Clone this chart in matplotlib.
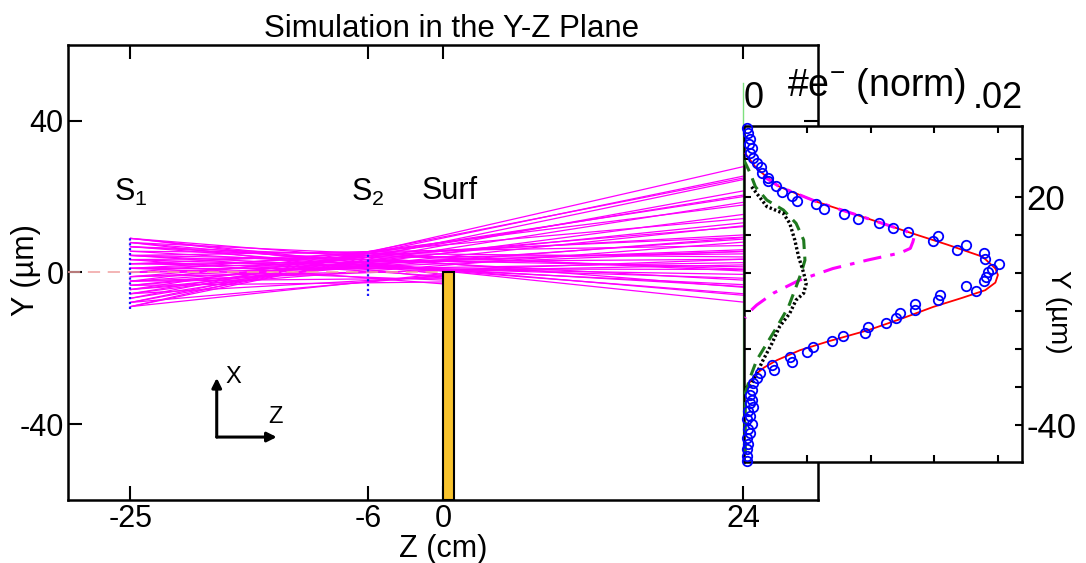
import numpy as np
import matplotlib.pyplot as plt
from matplotlib.patches import Rectangle

plt.rcParams['font.family'] = ['Liberation Sans', 'DejaVu Sans']
plt.rcParams['mathtext.fontset'] = 'custom'
plt.rcParams['mathtext.rm'] = 'Liberation Sans'
plt.rcParams['mathtext.it'] = 'Liberation Sans:italic'
plt.rcParams['mathtext.default'] = 'regular'
plt.rcParams['axes.unicode_minus'] = False

# beamline positions along Z (cm)
z_s1, z_s2, z_surf, z_det = -25, -6, 0, 24
surf_width = 0.9
s1_open = [-9.5, 9.2]
s2_open = [-6.3, 5.5]
det_extent = [-50, 50]

# transmitted rays: height (um) at S1 and at the detector plane
ray_y_s1 = [9, 9, 7.9, 7.9, 6.8, 6.8, 6.8, 5.6, 5.6, 4.5, 4.5, 4.5, 3.4, 3.4,
            2.3, 2.3, 2.3, 1.1, 1.1, 1.1, 0, 0, 0, -1.1, -1.1, -1.1, -2.3, -2.3,
            -2.3, -3.4, -3.4, -4.5, -4.5, -4.5, -5.6, -5.6, -6.8, -6.8, -7.9, -7.9,
            -9, -9]
ray_y_det = [-7.8, -3.9, -6.0, 0.4, -5.6, -2.0, 0.9, -3.7, 4.1, -3.2, 1.5, 7.1, -1.5, 4.9,
             -0.5, 3.5, 9.3, 0.8, 5.5, 9.9, 2.6, 6.0, 14.2, 2.0, 5.6, 12.1, 3.5, 8.8,
             17.8, 9.2, 13.1, 8.0, 12.3, 20.0, 15.3, 20.4, 18.5, 24.9, 21.5, 25.4,
             24.5, 27.9]

# rays stopped on the face of the surface: height at S1 and at Z = 0
blocked_y_s1 = [-9, -7.9, -5.6, -3.4, -2.3, 1.1, 3.4, 4.5, 7.9, 9]
blocked_y_surf = [-0.3, -0.8, -1.0, -2.5, -1.5, -2.0, -3.0, -1.0, -1.5, -0.5]

# detector profile (number of electrons, normalised) vs Y (um)
meas_y = [38.1, 36.9, 35.4, 34.0, 32.8, 31.7, 30.3, 29.0, 27.9, 26.4, 25.1, 24.2,
          22.9, 21.4, 20.3, 19.0, 18.2, 16.8, 15.5, 14.2, 13.1, 11.9, 10.7, 9.7,
          8.5, 6.1, 7.4, 5.2, 3.6, 2.4, 1.2, 0.2, -1.0, -2.0, -4.7, -3.4, -5.8,
          -7.1, -8.2, -9.6, -10.6, -11.9, -13.2, -14.1, -15.7, -16.6, -17.9,
          -19.4, -20.7, -22.0, -23.3, -24.1, -25.4, -26.4, -27.7, -29.0, -30.7,
          -32.0, -33.3, -34.3, -35.1, -36.4, -37.7, -38.5, -39.8, -41.1, -42.1,
          -43.4, -45.0, -46.3, -48.2, -49.5]
meas_x = [0.0002, 0.0003, 0.0005, 0.0004, 0.0006, 0.0005, 0.0007, 0.0010, 0.0013,
          0.0014, 0.0019, 0.0019, 0.0025, 0.0030, 0.0038, 0.0042, 0.0057, 0.0063,
          0.0079, 0.0090, 0.0106, 0.0117, 0.0129, 0.0153, 0.0149, 0.0168, 0.0175,
          0.0189, 0.0190, 0.0201, 0.0195, 0.0192, 0.0191, 0.0189, 0.0183, 0.0175,
          0.0154, 0.0153, 0.0135, 0.0135, 0.0123, 0.0120, 0.0112, 0.0098, 0.0095,
          0.0078, 0.0069, 0.0054, 0.0050, 0.0036, 0.0038, 0.0022, 0.0024, 0.00126,
          0.0010, 0.0007, 0.0006, 0.0005, 0.0006, 0.0005, 0.0007, 0.0003, 0.0005,
          0.0002, 0.0006, 0.0003, 0.0005, 0.0002, 0.0003, 0.0002, 0.0002, 0.0002]

fit_y = [31.5, 29.7, 27.5, 25.3, 22.7, 18.8, 14.4, 10.4, 7.5, 4.3, 1.2, -0.5,
         -2.5, -4.5, -6.5, -8.9, -12.0, -15.0, -18.0, -20.3, -22.9, -24.8, -26.4,
         -28.0, -29.5, -31.5]
fit_x = [0.0001, 0.0005, 0.0010, 0.0018, 0.0028, 0.0057, 0.0097, 0.0133, 0.0160,
         0.0188, 0.0198, 0.0200, 0.0198, 0.0190, 0.0172, 0.0149, 0.0124, 0.0098,
         0.0066, 0.0044, 0.0026, 0.0016, 0.0010, 0.0006, 0.0003, 0.0001]

upper_y = [25.5, 22.7, 18.8, 14.4, 11.0, 9.5, 8.2, 6.5, 5.3, 3.4, 1.2, -1.8, -5.3,
           -8.4, -10.6, -11.8]
upper_x = [0.0015, 0.0028, 0.0057, 0.0097, 0.0128, 0.0134, 0.0133, 0.0131, 0.0123,
           0.0097, 0.0070, 0.0044, 0.0023, 0.0010, 0.0003, 0.0001]

green_y = [29.7, 26.2, 22.7, 19.2, 16.6, 13.1, 8.7, 3.4, 0.0, -3.6, -8.9, -14.1,
           -18.5, -22.9, -27.3, -31.6, -40.0, -49.0]
green_x = [0.0000, 0.0005, 0.0009, 0.0018, 0.0031, 0.0041, 0.0047, 0.0048, 0.0045,
           0.0041, 0.0035, 0.0026, 0.0018, 0.0010, 0.0005, 0.0001, 0.0001, 0.0001]

black_y = [22.7, 17.5, 15.7, 13.1, 8.7, 4.3, 0.0, -2.7, -5.3, -7.1, -10.6, -14.1,
           -18.5, -22.9, -26.4, -29.9]
black_x = [0.0006, 0.0018, 0.0031, 0.0036, 0.0040, 0.0043, 0.0047, 0.0049, 0.0047,
           0.0041, 0.0036, 0.0028, 0.0022, 0.0015, 0.0010, 0.0005]

fig = plt.figure(figsize=(10.86, 5.63), dpi=100)
ax = fig.add_axes([0.0626, 0.1119, 0.6906, 0.8082])

# rays
for y1, y3 in zip(ray_y_s1, ray_y_det):
    ax.plot([z_s1, z_det], [y1, y3], color='#ff00ff', lw=0.9, zorder=2)
for y1, y0 in zip(blocked_y_s1, blocked_y_surf):
    ax.plot([z_s1, z_surf], [y1, y0], color='#ff00ff', lw=0.9, zorder=2)

# beam axis
ax.plot([-30, z_surf], [0, 0], color='#f0a0a0', lw=1.1, dashes=(8, 5), zorder=3)

# slits
ax.plot([z_s1, z_s1], s1_open, color='#1a1aff', lw=1.6, dashes=(1, 1.2), zorder=4)
ax.plot([z_s2, z_s2], s2_open, color='#1a1aff', lw=1.6, dashes=(1, 1.2), zorder=4)

# detector plane
ax.plot([z_det, z_det], det_extent, color='#7ee07e', lw=1.0, zorder=1)

# surface
ax.add_patch(Rectangle((z_surf, -60), surf_width, 60, facecolor='#f8c32d',
                       edgecolor='black', lw=1.5, zorder=5))

ax.text(z_s1, 19, 'S$_1$', fontsize=22, ha='center', va='baseline')
ax.text(z_s2, 19, 'S$_2$', fontsize=22, ha='center', va='baseline')
ax.text(0.5, 19.4, 'Surf', fontsize=22, ha='center', va='baseline')

# coordinate frame
corner = (-18.1, -43.4)
arrow = dict(arrowstyle='-|>', color='black', lw=2.2, mutation_scale=14,
             shrinkA=0, shrinkB=0)
ax.annotate('', xy=(corner[0], -27.8), xytext=corner, arrowprops=arrow)
ax.annotate('', xy=(-13.3, corner[1]), xytext=corner, arrowprops=arrow)
ax.text(-16.8, -27.6, 'X', fontsize=17, ha='center', va='center')
ax.text(-13.4, -38.1, 'Z', fontsize=17, ha='center', va='center')

ax.set_xlim(-30, 30)
ax.set_ylim(-60, 60)
ax.set_xticks([z_s1, z_s2, z_surf, z_det])
ax.set_yticks([-40, 0, 40])
ax.tick_params(direction='in', length=10, width=1.5, top=True, right=True,
               labelsize=22, pad=3)
for s in ax.spines.values():
    s.set_linewidth(1.8)
ax.set_xlabel('Z (cm)', fontsize=22, labelpad=0)
ax.set_ylabel('Y (µm)', fontsize=22)
ax.yaxis.set_label_coords(-0.036, 0.505)
ax.set_title('Simulation in the Y-Z Plane', fontsize=22.5, pad=6, x=0.511)

# detector profile inset
ax_in = fig.add_axes([0.6851, 0.1794, 0.2560, 0.5968])
ax_in.plot(fit_x, fit_y, color='red', lw=1.3, zorder=3)
ax_in.plot(upper_x, upper_y, color='#ff00ff', lw=2.2, dashes=(6, 3, 1.5, 3), zorder=4)
ax_in.plot(green_x, green_y, color='#1f7a1f', lw=2.2, dashes=(4, 2.5), zorder=4)
ax_in.plot(black_x, black_y, color='black', lw=2.4, dashes=(0.7, 0.7), zorder=4)
ax_in.plot(meas_x, meas_y, 'o', mfc='none', mec='#0000ff', ms=6.8, mew=1.3,
           clip_on=False, zorder=5)

ax_in.set_xlim(0, 0.0219)
ax_in.set_ylim(-49.7, 38.7)
ax_in.set_xticks([0, 0.005, 0.01, 0.015, 0.02])
ax_in.set_xticklabels(['0', '', '', '', '.02'])
ax_in.set_yticks([-40, -30, -20, -10, 0, 10, 20, 30])
ax_in.set_yticklabels(['-40', '', '', '', '', '', '20', ''])
ax_in.tick_params(axis='x', direction='in', length=5, width=1.5, top=True, bottom=True,
                  labeltop=True, labelbottom=False, labelsize=26, pad=7)
ax_in.tick_params(axis='y', direction='in', length=5, width=1.5, left=True, right=True,
                  labelleft=False, labelright=True, labelsize=25, pad=3)
ax_in.get_xticklabels()[0].set_ha('left')
for s in ax_in.spines.values():
    s.set_linewidth(1.8)
ax_in.text(0.478, 1.089, '#e$^{-}$ (norm)', transform=ax_in.transAxes, fontsize=27,
           ha='center', va='baseline')
ax_in.text(1.13, 0.446, 'Y (µm)', transform=ax_in.transAxes, fontsize=20,
           rotation=270, ha='center', va='center')

fig.savefig('out.png', dpi=100)
